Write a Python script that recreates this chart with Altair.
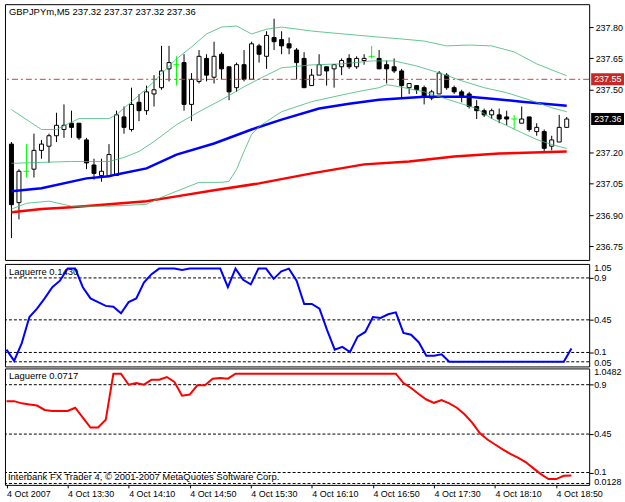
import json
import altair as alt
import pandas as pd

FONT = "Liberation Sans"
SYMBOL = "GBPJPYm,M5"

# ---- time axis ----
TICK_BARS = [0, 8, 16, 24, 32, 40, 48, 56, 64, 72]
TICK_LABELS = ["4 Oct 2007", "4 Oct 13:30", "4 Oct 14:10", "4 Oct 14:50", "4 Oct 15:30",
               "4 Oct 16:10", "4 Oct 16:50", "4 Oct 17:30", "4 Oct 18:10", "4 Oct 18:50"]

# ---- candles (M5 bars 12:50 .. 19:00) ----
OPEN = [237.24, 236.96, 237.11, 237.12, 237.21, 237.23, 237.28, 237.31, 237.34, 237.34,
        237.26, 237.14, 237.09, 237.09, 237.09, 237.37, 237.31, 237.44, 237.40, 237.48,
        237.51, 237.60, 237.62, 237.63, 237.43, 237.54, 237.65, 237.56, 237.67, 237.61,
        237.51, 237.62, 237.55, 237.71, 237.66, 237.75, 237.74, 237.72, 237.69, 237.65,
        237.52, 237.57, 237.61, 237.60, 237.61, 237.65, 237.61, 237.64, 237.66, 237.65,
        237.62, 237.61, 237.59, 237.51, 237.52, 237.51, 237.46, 237.48, 237.57, 237.51,
        237.49, 237.48, 237.42, 237.40, 237.38, 237.38, 237.37, 237.36, 237.34, 237.37,
        237.30, 237.30, 237.23, 237.25, 237.32]
HIGH = [237.25, 237.12, 237.24, 237.29, 237.26, 237.29, 237.39, 237.43, 237.40, 237.34,
        237.27, 237.17, 237.17, 237.24, 237.40, 237.42, 237.51, 237.48, 237.52, 237.57,
        237.71, 237.71, 237.66, 237.67, 237.58, 237.69, 237.67, 237.73, 237.68, 237.61,
        237.63, 237.69, 237.73, 237.72, 237.78, 237.84, 237.78, 237.75, 237.70, 237.68,
        237.60, 237.67, 237.61, 237.62, 237.65, 237.67, 237.66, 237.67, 237.71, 237.69,
        237.64, 237.65, 237.60, 237.53, 237.52, 237.52, 237.50, 237.59, 237.58, 237.52,
        237.50, 237.49, 237.45, 237.41, 237.41, 237.41, 237.40, 237.38, 237.42, 237.37,
        237.34, 237.31, 237.28, 237.38, 237.37]
LOW = [236.79, 236.88, 237.08, 237.08, 237.17, 237.15, 237.25, 237.27, 237.27, 237.26,
       237.12, 237.07, 237.06, 237.09, 237.09, 237.29, 237.30, 237.35, 237.38, 237.42,
       237.50, 237.54, 237.52, 237.40, 237.35, 237.53, 237.54, 237.53, 237.55, 237.45,
       237.49, 237.54, 237.55, 237.63, 237.60, 237.69, 237.67, 237.67, 237.55, 237.51,
       237.52, 237.57, 237.52, 237.51, 237.57, 237.60, 237.60, 237.62, 237.65, 237.60,
       237.53, 237.58, 237.46, 237.48, 237.48, 237.43, 237.45, 237.48, 237.50, 237.48,
       237.44, 237.41, 237.36, 237.37, 237.36, 237.34, 237.33, 237.31, 237.34, 237.30,
       237.28, 237.20, 237.21, 237.25, 237.32]
CLOSE = [236.95, 237.11, 237.11, 237.21, 237.24, 237.28, 237.33, 237.33, 237.32, 237.27,
         237.15, 237.10, 237.11, 237.19, 237.38, 237.32, 237.43, 237.40, 237.49, 237.50,
         237.59, 237.63, 237.62, 237.43, 237.55, 237.66, 237.57, 237.66, 237.60, 237.49,
         237.62, 237.55, 237.72, 237.67, 237.76, 237.73, 237.71, 237.70, 237.63, 237.51,
         237.57, 237.62, 237.59, 237.62, 237.64, 237.61, 237.65, 237.65, 237.66, 237.60,
         237.60, 237.59, 237.52, 237.53, 237.50, 237.47, 237.49, 237.58, 237.51, 237.49,
         237.47, 237.42, 237.40, 237.38, 237.40, 237.36, 237.36, 237.36, 237.36, 237.31,
         237.32, 237.22, 237.26, 237.32, 237.36]

PRICE_TICKS = [236.75, 236.90, 237.05, 237.20, 237.50, 237.65, 237.80]
ASK = 237.55
BID = 237.36

# ---- Bollinger bands (upper / middle / lower) ----
BB_UP_BAR = [0, 4, 6, 9, 13, 14, 16, 18, 20, 22, 24, 26, 28, 30, 32, 34, 36, 40, 43, 49,
             52, 55, 58, 61, 64, 67, 70, 73, 74]
BB_UP = [237.405, 237.310, 237.310, 237.362, 237.362, 237.381, 237.443, 237.505, 237.576,
         237.648, 237.705, 237.767, 237.800, 237.805, 237.767, 237.790, 237.800, 237.781,
         237.771, 237.752, 237.743, 237.733, 237.710, 237.714, 237.710, 237.681, 237.624,
         237.581, 237.567]
BB_MID_BAR = [0, 8, 13, 15, 17, 19, 22, 25, 28, 31, 33, 36, 40, 44, 48, 51, 54, 57, 60, 63,
              66, 69, 72, 74]
BB_MID = [237.148, 237.157, 237.157, 237.176, 237.205, 237.252, 237.333, 237.395, 237.452,
          237.514, 237.552, 237.605, 237.619, 237.624, 237.638, 237.638, 237.614, 237.581,
          237.543, 237.510, 237.486, 237.452, 237.414, 237.395]
BB_LOW_BAR = [0, 2, 5, 8, 13, 18, 20, 23, 25, 28, 29, 30, 31, 32, 33, 34, 36, 40, 43, 46,
              49, 50, 51, 53, 55, 57, 60, 62, 64, 66, 68, 70, 72, 74]
BB_LOW = [236.929, 236.957, 236.967, 236.943, 236.943, 236.952, 236.986, 237.029, 237.057,
          237.057, 237.062, 237.119, 237.205, 237.286, 237.324, 237.348, 237.395, 237.443,
          237.467, 237.490, 237.510, 237.524, 237.519, 237.505, 237.490, 237.467, 237.433,
          237.410, 237.362, 237.329, 237.295, 237.262, 237.238, 237.219]

# ---- moving averages ----
MA_BLUE_BAR = [0, 4, 10, 13, 14, 18, 22, 27, 32, 36, 41, 45, 49, 55, 58, 61, 64, 68, 74]
MA_BLUE = [237.014, 237.029, 237.076, 237.086, 237.095, 237.124, 237.190, 237.243, 237.310,
           237.357, 237.410, 237.433, 237.452, 237.467, 237.467, 237.467, 237.457, 237.443,
           237.424]
MA_RED_BAR = [0, 4, 8, 13, 18, 22, 27, 33, 40, 47, 53, 59, 65, 74]
MA_RED = [236.914, 236.929, 236.938, 236.952, 236.967, 236.990, 237.019, 237.052, 237.100,
          237.143, 237.157, 237.181, 237.195, 237.205]

# ---- Laguerre indicators ----
LAG1 = [0.13, 0.01, 0.20, 0.48, 0.57, 0.68, 0.80, 0.87, 1.00, 1.00,
        0.80, 0.68, 0.64, 0.60, 0.59, 0.52, 0.64, 0.68, 0.85, 0.94,
        1.00, 1.00, 1.00, 0.985, 1.00, 1.00, 1.00, 1.00, 1.00, 0.80,
        1.00, 0.88, 0.83, 1.00, 1.00, 0.89, 0.97, 1.00, 0.87, 0.62,
        0.62, 0.57, 0.34, 0.13, 0.16, 0.105, 0.27, 0.32, 0.48, 0.47,
        0.51, 0.53, 0.31, 0.29, 0.21, 0.065, 0.065, 0.08, 0.0, 0.0,
        0.0, 0.0, 0.0, 0.0, 0.0, 0.0, 0.0, 0.0, 0.0, 0.0,
        0.0, 0.0, 0.0, 0.0, 0.1430]
LAG2 = [0.75, 0.75, 0.73, 0.72, 0.71, 0.67, 0.66, 0.66, 0.66, 0.69,
        0.60, 0.51, 0.51, 0.58, 1.00, 1.00, 0.90, 0.915, 0.90, 0.945,
        0.945, 0.97, 0.925, 0.80, 0.81, 0.895, 0.895, 0.955, 0.96, 0.955,
        1.0, 1.0, 1.0, 1.0, 1.0, 1.0, 1.0, 1.0, 1.0, 1.0,
        1.0, 1.0, 1.0, 1.0, 1.0, 1.0, 1.0, 1.0, 1.0, 1.0,
        1.0, 1.0, 0.915, 0.87, 0.815, 0.765, 0.735, 0.76, 0.73, 0.69,
        0.63, 0.555, 0.46, 0.40, 0.355, 0.31, 0.27, 0.235, 0.195, 0.14,
        0.085, 0.04, 0.04, 0.07, 0.0717]
LEVELS = [0.9, 0.45, 0.1, 0.0]
LEVEL_LABELS = ["0.9", "0.45", "0.1"]
LAG1_RANGE = [-0.05, 1.05]
LAG1_EDGE_LABELS = ["1.05", "0.05"]
LAG2_RANGE = [-0.0128, 1.0482]
LAG2_EDGE_LABELS = ["1.0482", "0.0128"]

COPYRIGHT = "Interbank FX Trader 4, \u00a9 2001-2007 MetaQuotes Software Corp."

# ------------------------------------------------------------------
W = 587
H_MAIN, H_L1, H_L2 = 257, 103, 117
XS = alt.Scale(domain=[-0.2, 76.33], nice=False, zero=False)


def X(field, axis=None):
    return alt.X(field, type="quantitative", scale=XS, axis=axis)


YS_MAIN = alt.Scale(domain=[236.6857, 237.9095], nice=False, zero=False)
AX_MAIN = alt.Axis(orient="right", values=PRICE_TICKS, format=".2f", tickSize=4,
                   tickColor="black", labelColor="black", labelFont=FONT, labelFontSize=9,
                   labelPadding=2, domain=False, grid=False, title=None, labelFlush=False,
                   labelOverlap=False)


def YM(field):
    return alt.Y(field, type="quantitative", scale=YS_MAIN, axis=AX_MAIN)


n = len(OPEN)
bars = pd.DataFrame({"bar": list(range(n)), "open": OPEN, "high": HIGH, "low": LOW,
                     "close": CLOSE})
bars["dir"] = ["up" if c > o else ("down" if c < o else "doji") for o, c in zip(OPEN, CLOSE)]

base = alt.Chart(bars)
wick = base.transform_filter("datum.dir != 'doji'").mark_rule(
    color="black", strokeWidth=1).encode(x=X("bar"), y=YM("low"), y2=alt.Y2("high"))
body = base.transform_filter("datum.dir != 'doji'").mark_bar(
    size=4, stroke="black", strokeWidth=1).encode(
    x=X("bar"), y=YM("open"), y2=alt.Y2("close"),
    fill=alt.Fill("dir:N", scale=alt.Scale(domain=["up", "down"], range=["white", "black"]),
                  legend=None))
doji_wick = base.transform_filter("datum.dir == 'doji'").mark_rule(
    color="#00ff00", strokeWidth=1).encode(x=X("bar"), y=YM("low"), y2=alt.Y2("high"))
doji_tick = base.transform_filter("datum.dir == 'doji'").mark_tick(
    color="#00ff00", orient="horizontal", size=6, thickness=1, opacity=1).encode(
    x=X("bar"), y=YM("close"))


def line(idx, vals, color, width, y_fn, x_fn=X, opacity=1.0):
    df = pd.DataFrame({"bar": idx, "v": vals})
    return alt.Chart(df).mark_line(color=color, strokeWidth=width, opacity=opacity).encode(
        x=x_fn("bar"), y=y_fn("v"))


BB_COLOR = "#3cb878"
red_ma = line(MA_RED_BAR, MA_RED, "#ff0000", 2.5, YM)
blue_ma = line(MA_BLUE_BAR, MA_BLUE, "#0000ff", 2.5, YM)
bb_u = line(BB_UP_BAR, BB_UP, BB_COLOR, 1, YM, opacity=0.8)
bb_m = line(BB_MID_BAR, BB_MID, BB_COLOR, 1, YM, opacity=0.8)
bb_l = line(BB_LOW_BAR, BB_LOW, BB_COLOR, 1, YM, opacity=0.8)

ask_df = pd.DataFrame({"v": [ASK]})
bid_df = pd.DataFrame({"v": [BID]})
ask_rule = alt.Chart(ask_df).mark_rule(color="#d83a3a", strokeWidth=1,
                                       strokeDash=[6, 3, 2, 3]).encode(y=YM("v"))


def price_box(df, color):
    box = alt.Chart(df).transform_calculate(
        top="datum.v + 0.0286", bot="datum.v - 0.0286").mark_rect(color=color).encode(
        x=alt.value(W + 2), x2=alt.value(W + 35), y=YM("top:Q"), y2=alt.Y2("bot:Q"))
    txt = alt.Chart(df).mark_text(align="left", baseline="middle", color="white", font=FONT,
                                  fontSize=9).encode(
        x=alt.value(W + 5), y=YM("v"), text=alt.Text("v:Q", format=".2f"))
    return box + txt


title_df = pd.DataFrame({"t": [f"{SYMBOL}  {OPEN[-1]:.2f} {HIGH[-1]:.2f} {LOW[-1]:.2f} {CLOSE[-1]:.2f}"]})
title = alt.Chart(title_df).mark_text(align="left", baseline="middle", font=FONT, fontSize=9.5,
                                      color="black").encode(
    x=alt.value(4), y=alt.value(8), text="t:N")

main = alt.layer(wick, body, doji_wick, doji_tick, red_ma, blue_ma, bb_u, bb_m, bb_l,
                 ask_rule, price_box(ask_df, "#c62828"), price_box(bid_df, "black"),
                 title).properties(width=W, height=H_MAIN)


# ---- indicator panels ----
def indicator_panel(values, rng, edge_labels, color, height, name, x_axis=None, extra=None):
    ys = alt.Scale(domain=rng, nice=False, zero=False)
    ax = alt.Axis(orient="right", values=LEVELS[:3], labels=False, tickSize=4,
                  tickColor="black", domain=False, grid=False, title=None)

    def Y(field):
        return alt.Y(field, type="quantitative", scale=ys, axis=ax)

    def XX(field):
        return X(field, axis=x_axis)

    lev = alt.Chart(pd.DataFrame({"v": LEVELS})).mark_rule(
        color="black", strokeWidth=1, strokeDash=[3, 2]).encode(y=Y("v"))
    ln = line(list(range(len(values))), values, color, 2, Y, XX)
    mid_lab = alt.Chart(pd.DataFrame({"v": LEVELS[:3], "t": LEVEL_LABELS})).mark_text(
        align="left", baseline="middle", font=FONT, fontSize=9, color="black").encode(
        x=alt.value(W + 5), y=Y("v"), text="t:N")
    top_lab = alt.Chart(pd.DataFrame({"v": [rng[1]], "t": [edge_labels[0]]})).mark_text(
        align="left", baseline="top", font=FONT, fontSize=9, color="black").encode(
        x=alt.value(W + 5), y=Y("v"), text="t:N")
    bot_lab = alt.Chart(pd.DataFrame({"v": [rng[0]], "t": [edge_labels[1]]})).mark_text(
        align="left", baseline="alphabetic", font=FONT, fontSize=9, color="black").encode(
        x=alt.value(W + 5), y=Y("v"), text="t:N")
    nm = alt.Chart(pd.DataFrame({"t": [f"{name} {values[-1]:.4f}"]})).mark_text(
        align="left", baseline="middle", font=FONT, fontSize=9.5, color="black").encode(
        x=alt.value(4), y=alt.value(8), text="t:N")
    layers = [lev, ln, mid_lab, top_lab, bot_lab, nm]
    if extra is not None:
        layers.append(extra)
    return alt.layer(*layers).properties(width=W, height=height)


label_expr = json.dumps(TICK_LABELS) + "[indexof(" + json.dumps(TICK_BARS) + ", datum.value)]"
AX_TIME = alt.Axis(values=TICK_BARS, labelExpr=label_expr, orient="bottom", tickSize=3,
                   tickColor="black", labelAlign="left", labelBaseline="top", labelPadding=2,
                   labelFont=FONT, labelFontSize=9, labelColor="black", domain=False,
                   grid=False, labelFlush=False, labelOverlap=False, title=None)

copyright_txt = alt.Chart(pd.DataFrame({"t": [COPYRIGHT]})).mark_text(
    align="left", baseline="middle", font=FONT, fontSize=9.5, color="black").encode(
    x=alt.value(3), y=alt.value(109), text="t:N")

lag1 = indicator_panel(LAG1, LAG1_RANGE, LAG1_EDGE_LABELS, "#0000ff", H_L1, "Laguerre")
lag2 = indicator_panel(LAG2, LAG2_RANGE, LAG2_EDGE_LABELS, "#ff0000", H_L2, "Laguerre",
                       x_axis=AX_TIME, extra=copyright_txt)

chart = alt.vconcat(
    main,
    alt.vconcat(lag1, lag2, spacing=2, bounds="flush"),
    spacing=4, bounds="flush",
).properties(
    padding={"left": 2, "top": 2, "right": 0, "bottom": 0}, background="white"
).configure_view(stroke="black", strokeWidth=1)

chart.save("out.html", embed_options={"renderer": "svg", "actions": False})
